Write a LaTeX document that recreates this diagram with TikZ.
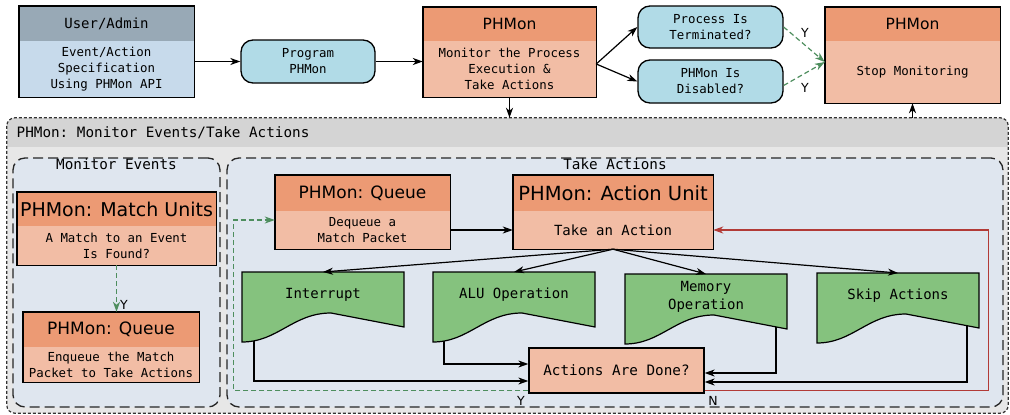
\documentclass[tikz,border=0pt]{standalone}
\usepackage{fontspec}
\setmainfont{DejaVu Sans}
\setmonofont{DejaVu Sans Mono}
\usetikzlibrary{arrows.meta}

\definecolor{hdrorange}{HTML}{EC9A74}
\definecolor{bodyorange}{HTML}{F2BDA5}
\definecolor{userhdr}{HTML}{98A9B6}
\definecolor{userbody}{HTML}{C7DAEB}
\definecolor{condblue}{HTML}{B1DBE7}
\definecolor{actgreen}{HTML}{85C27E}
\definecolor{bandgrey}{HTML}{D4D4D4}
\definecolor{panelgrey}{HTML}{E7E7E7}
\definecolor{groupblue}{HTML}{DFE6EF}
\definecolor{yesgreen}{HTML}{4E8E5E}
\definecolor{nored}{HTML}{B23A36}

\begin{document}
\begin{tikzpicture}[x=1pt,y=-1pt,
  hdrbox/.style={fill=hdrorange,inner sep=0pt,font=\fontsize{15.5}{18}\selectfont},
  bodybox/.style={fill=bodyorange,inner sep=0pt,align=center,font=\ttfamily\fontsize{12.4}{16}\selectfont},
  boxframe/.style={draw=black,line width=1.4pt},
  condbox/.style={draw,line width=1.3pt,fill=condblue,rounded corners=12pt,inner sep=0pt,
    align=center,font=\ttfamily\fontsize{12.4}{16}\selectfont},
  flow/.style={line width=1.2pt,-{Stealth[length=10pt,width=7pt,inset=3pt]}},
  yesflow/.style={flow,draw=yesgreen,dash pattern=on 5pt off 3pt},
  noflow/.style={flow,draw=nored},
  lbl/.style={font=\fontsize{12.5}{14}\selectfont,inner sep=0pt},
  groupbox/.style={fill=groupblue,draw=black!85,line width=1.3pt,dash pattern=on 10pt off 5pt,
    rounded corners=12pt,inner sep=0pt},
  grouptitle/.style={font=\ttfamily\fontsize{14.3}{17}\selectfont,inner sep=1.5pt},
  actdoc/.style={fill=actgreen,draw,line width=1.2pt},
  acttext/.style={align=center,font=\ttfamily\fontsize{14}{18}\selectfont}]
\useasboundingbox (0,0) rectangle (1010,415);

% user side
\node[hdrbox,fill=userhdr,font=\ttfamily\fontsize{14}{17}\selectfont,minimum width=175pt,minimum height=35pt]
  (user-h) at (106.5,23.5) {User/Admin};
\node[bodybox,fill=userbody,minimum width=175pt,minimum height=56pt] (user) at (106.5,69)
  {Event/Action\\Specification\\Using PHMon API};
\draw[boxframe] (user-h.north west) rectangle (user.south east);
\node[condbox,minimum width=134pt,minimum height=43pt] (prog) at (308,61.5) {Program\\PHMon};

% monitor
\node[hdrbox,minimum width=173pt,minimum height=34pt] (mon-h) at (509.5,24) {PHMon};
\node[bodybox,minimum width=173pt,minimum height=56pt] (mon) at (509.5,69)
  {Monitor the Process\\Execution \&\\Take Actions};
\draw[boxframe] (mon-h.north west) rectangle (mon.south east);

% stop conditions
\node[condbox,minimum width=145pt,minimum height=42pt] (term) at (710.5,27) {Process Is\\Terminated?};
\node[condbox,minimum width=145pt,minimum height=43pt] (dis) at (710.5,81.5) {PHMon Is\\Disabled?};
\node[hdrbox,minimum width=175pt,minimum height=34pt] (stop-h) at (912.5,24) {PHMon};
\node[bodybox,minimum width=175pt,minimum height=62pt] (stop) at (912.5,72) {Stop Monitoring};
\draw[boxframe] (stop-h.north west) rectangle (stop.south east);

\draw[flow] (user.east |- prog.west) -- (prog.west);
\draw[flow] (prog.east) -- (prog.east -| mon.west);
\coordinate (fork) at ([yshift=5pt]mon.east);
\draw[flow] (fork) -- (term.west);
\draw[flow] (fork) -- (dis.west);
\draw[yesflow] (term.east) -- ([yshift=10pt]stop.west);
\draw[yesflow] ([yshift=-4pt]dis.east) -- ([yshift=10pt]stop.west);
\node[lbl] (y-term) at (805,33) {Y};
\node[lbl] (y-dis) at (805,88) {Y};

% monitor events / take actions panel
\node[fill=panelgrey,rounded corners=8pt,inner sep=0pt,minimum width=1001pt,minimum height=295pt]
  (outer) at (507.5,265.5) {};
\begin{scope}
  \clip[rounded corners=8pt] (outer.north west) rectangle (outer.south east);
  \fill[bandgrey] (outer.north west) rectangle ([yshift=-29pt]outer.north east);
\end{scope}
\draw[draw=black!80,line width=1.2pt,dash pattern=on 3pt off 2pt,rounded corners=8pt]
  (outer.north west) rectangle (outer.south east);
\node[grouptitle,anchor=west] (outer-t) at (15,133) {PHMon: Monitor Events/Take Actions};
\draw[flow] (mon.south) -- (mon.south |- outer.north);
\draw[flow] (stop.south |- outer.north) -- (stop.south);

\node[groupbox,minimum width=207pt,minimum height=249pt] (evgrp) at (116.5,282.5) {};
\node[grouptitle,anchor=north] (evgrp-t) at (evgrp.north) {Monitor Events};
\node[groupbox,minimum width=776pt,minimum height=249pt] (actgrp) at (615,282.5) {};
\node[grouptitle,anchor=north] (actgrp-t) at (actgrp.north) {Take Actions};

% match units and enqueue
\node[hdrbox,font=\fontsize{19}{22}\selectfont,minimum width=199pt,minimum height=34pt] (mu-h) at (116.5,209)
  {PHMon: Match Units};
\node[bodybox,minimum width=199pt,minimum height=39pt] (mu) at (116.5,245.5) {A Match to an Event\\Is Found?};
\draw[boxframe] (mu-h.north west) rectangle (mu.south east);
\node[hdrbox,font=\fontsize{17}{20}\selectfont,minimum width=176pt,minimum height=35pt] (enq-h) at (111,329.5)
  {PHMon: Queue};
\node[bodybox,minimum width=176pt,minimum height=35pt] (enq) at (111,364.5)
  {Enqueue the Match\\Packet to Take Actions};
\draw[boxframe] (enq-h.north west) rectangle (enq.south east);
\draw[yesflow] (mu.south) -- (mu.south |- enq-h.north);
\node[lbl] (y-match) at (124,305) {Y};

% dequeue and action unit
\node[hdrbox,font=\fontsize{17}{20}\selectfont,minimum width=175pt,minimum height=36pt] (dq-h) at (362.5,193)
  {PHMon: Queue};
\node[bodybox,minimum width=175pt,minimum height=38pt] (dq) at (362.5,230) {Dequeue a\\Match Packet};
\draw[boxframe] (dq-h.north west) rectangle (dq.south east);
\node[hdrbox,font=\fontsize{19.5}{22}\selectfont,minimum width=200pt,minimum height=36pt] (au-h) at (613,193)
  {PHMon: Action Unit};
\node[bodybox,font=\ttfamily\fontsize{14}{17}\selectfont,minimum width=200pt,minimum height=38pt] (au) at (613,230)
  {Take an Action};
\draw[boxframe] (au-h.north west) rectangle (au.south east);
\draw[flow] (dq.east) -- (au.west);

% action kinds
\foreach \nm/\xl/\yt/\txt in {intr/242/272/Interrupt, alu/433/272/{ALU Operation},
    mem/625/274/{Memory\\Operation}, skip/817/273/{Skip Actions}} {
  \draw[actdoc] (\xl,\yt) -- ++(162,0) -- ++(0,55) -- ++(-73,-14)
    .. controls +(-38,0) and +(36,0) .. ++(-89,29) -- cycle;
  \node[acttext] (\nm) at (\xl+81,\yt+23) {\txt};
  \coordinate (\nm-top) at (\xl+81,\yt);
}
\foreach \nm in {intr,alu,mem,skip}
  \draw[flow] (au.south) -- (\nm-top);

\node[bodybox,draw,line width=1.3pt,font=\ttfamily\fontsize{14.3}{17}\selectfont,minimum width=175pt,minimum height=45pt]
  (done) at (616.5,370.5) {Actions Are Done?};
\coordinate (intr-foot) at (254,341);
\coordinate (alu-foot) at (444,341);
\coordinate (mem-foot) at (776,327);
\coordinate (skip-foot) at (967,326);
\draw[flow] (intr-foot) |- ([yshift=-10.5pt]done.west);
\draw[flow] (alu-foot) |- ([yshift=6.5pt]done.west);
\draw[flow] (mem-foot) |- ([yshift=-2.5pt]done.east);
\draw[flow] (skip-foot) |- ([yshift=-11.5pt]done.east);

% loop back or go to the next packet
\draw[noflow] ([yshift=3pt]done.south east) -- ++(284,0) |- (au.east);
\node[lbl] (n-done) at (713,401) {N};
\draw[yesflow] ([yshift=3pt]done.south west) -| ([xshift=-41pt,yshift=10pt]dq.west) -- ([yshift=10pt]dq.west);
\node[lbl] (y-done) at (521,401) {Y};
\end{tikzpicture}
\end{document}
